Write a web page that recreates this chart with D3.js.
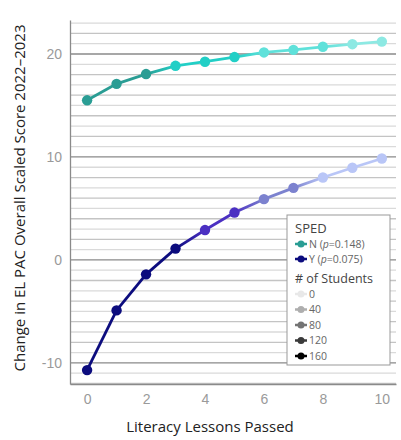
<!DOCTYPE html>
<html>
<head>
<meta charset="utf-8">
<script src="https://cdn.jsdelivr.net/npm/d3@7"></script>
<style>
  body { margin: 0; background: #fff; }
  svg { font-family: "Open Sans", sans-serif; }
</style>
</head>
<body>
<div id="chart"></div>
<script>
// lessons passed (x) and average change in scaled score per SPED group
const lessons = [0, 1, 2, 3, 4, 5, 6, 7, 8, 9, 10];
const changeN = [15.5, 17.1, 18.05, 18.85, 19.25, 19.7, 20.15, 20.4, 20.7, 20.95, 21.2];
const changeY = [-10.7, -4.9, -1.4, 1.1, 2.9, 4.6, 5.9, 7.0, 8.0, 8.95, 9.85];
// number of students at each point (drives the shade)
const studentsN = [150, 140, 125, 110, 95, 85, 70, 55, 45, 35, 30];
const studentsY = [160, 145, 130, 121, 100, 85, 65, 45, 35, 25, 20];
const groups = ["N", "Y"];
const pValues = ["0.148", "0.075"];
const studentTicks = [0, 40, 80, 120, 160];
const xTicks = [0, 2, 4, 6, 8, 10];
const yTicks = [-10, 0, 10, 20];

const width = 401, height = 440;
const margin = { top: 20, right: 5, bottom: 56, left: 70 };

const svg = d3.select("#chart")
  .append("svg")
  .attr("width", width)
  .attr("height", height);

const x = d3.scaleLinear()
  .domain([-0.58, 10.48])
  .range([margin.left, width - margin.right]);

const y = d3.scaleLinear()
  .domain([-12.05, 23.3])
  .range([height - margin.bottom, margin.top]);

// shade palettes, light -> dark, for each group
const shadeN = d3.scaleThreshold().domain([40, 80, 120])
  .range(["#8de9e3", "#5fe1da", "#22cfc6", "#2a9d94"]);
const shadeY = d3.scaleThreshold().domain([40, 80, 120])
  .range(["#b9c6f7", "#7c82cf", "#4b30c2", "#0c0c7e"]);
const legendGray = d3.scaleLinear().domain([0, 160]).range(["#e8e8e8", "#000000"]);

// grid lines, one per unit, darker every ten
const grid = svg.append("g");
grid.selectAll("line")
  .data(d3.range(-12, 24))
  .enter()
  .append("line")
  .attr("x1", margin.left)
  .attr("x2", width - margin.right)
  .attr("y1", d => y(d))
  .attr("y2", d => y(d))
  .style("stroke", d => d % 10 === 0 ? "#8a8a8a" : (d % 2 === 0 ? "#c4c4c4" : "#dadada"))
  .style("stroke-width", 1.3);

// axes
const xAxis = svg.append("g")
  .attr("transform", "translate(0," + (height - margin.bottom) + ")")
  .call(d3.axisBottom(x).tickValues(xTicks).tickSize(0).tickPadding(10));
const yAxis = svg.append("g")
  .attr("transform", "translate(" + margin.left + ",0)")
  .call(d3.axisLeft(y).tickValues(yTicks).tickSize(0).tickPadding(8).tickFormat(d3.format("d")));

[xAxis, yAxis].forEach(a => {
  a.select(".domain").style("stroke", "#8a8a8a").style("stroke-width", 1.3);
  a.selectAll("text").style("fill", "#9a9a9a").style("font-size", "14px");
});
yAxis.selectAll("text").text(d => String(d).replace("\u2212", "-"));

svg.append("text")
  .attr("x", 210)
  .attr("y", 432)
  .attr("text-anchor", "middle")
  .style("font-size", "15px")
  .style("fill", "#222")
  .text("Literacy Lessons Passed");

svg.append("text")
  .attr("transform", "translate(25,198) rotate(-90)")
  .attr("text-anchor", "middle")
  .style("font-size", "15px")
  .style("fill", "#222")
  .text("Change in EL PAC Overall Scaled Score 2022\u20132023");

// series
const series = [
  { values: changeN, counts: studentsN, shade: shadeN },
  { values: changeY, counts: studentsY, shade: shadeY }
];

const defs = svg.append("defs");

series.forEach((s, si) => {
  const pts = lessons.map((l, i) => ({ x: x(l), y: y(s.values[i]), c: s.shade(s.counts[i]) }));
  const g = svg.append("g");

  // each segment gets a gradient from one point colour to the next
  d3.pairs(pts).forEach(([a, b], i) => {
    const id = "grad" + si + "_" + i;
    const grad = defs.append("linearGradient")
      .attr("id", id)
      .attr("gradientUnits", "userSpaceOnUse")
      .attr("x1", a.x).attr("y1", a.y)
      .attr("x2", b.x).attr("y2", b.y);
    grad.append("stop").attr("offset", "0%").attr("stop-color", a.c);
    grad.append("stop").attr("offset", "100%").attr("stop-color", b.c);
    g.append("line")
      .attr("x1", a.x).attr("y1", a.y)
      .attr("x2", b.x).attr("y2", b.y)
      .style("stroke", "url(#" + id + ")")
      .style("stroke-width", 2.8);
  });

  g.selectAll("circle")
    .data(pts)
    .enter()
    .append("circle")
    .attr("cx", d => d.x)
    .attr("cy", d => d.y)
    .attr("r", 5.2)
    .style("fill", d => d.c);
});

// legend
const lg = svg.append("g").attr("transform", "translate(287,215)");
lg.append("rect")
  .attr("width", 103)
  .attr("height", 150)
  .style("fill", "#fff")
  .style("stroke", "#999")
  .style("stroke-width", 1);

lg.append("text")
  .attr("x", 8).attr("y", 18)
  .style("font-size", "13px").style("fill", "#444")
  .text("SPED");

const groupColors = [shadeN(160), shadeY(160)];
groups.forEach((grp, i) => {
  const row = lg.append("g").attr("transform", "translate(0," + (29 + i * 15) + ")");
  row.append("line").attr("x1", 8).attr("x2", 20)
    .style("stroke", groupColors[i]).style("stroke-width", 2.5);
  row.append("circle").attr("cx", 14).attr("r", 3.5).style("fill", groupColors[i]);
  const t = row.append("text").attr("x", 22).attr("dy", "0.35em")
    .style("font-size", "10.5px").style("fill", "#666");
  t.append("tspan").text(grp + " (");
  t.append("tspan").style("font-style", "italic").text("p");
  t.append("tspan").text("=" + pValues[i] + ")");
});

lg.append("text")
  .attr("x", 8).attr("y", 67.5)
  .style("font-size", "12.5px").style("fill", "#444")
  .text("# of Students");

studentTicks.forEach((n, i) => {
  const row = lg.append("g").attr("transform", "translate(0," + (79 + i * 15.5) + ")");
  row.append("line").attr("x1", 8).attr("x2", 20)
    .style("stroke", legendGray(n)).style("stroke-width", 2.5);
  row.append("circle").attr("cx", 14).attr("r", 3.5).style("fill", legendGray(n));
  row.append("text").attr("x", 22).attr("dy", "0.35em")
    .style("font-size", "10.5px").style("fill", "#666")
    .text(n);
});
</script>
</body>
</html>
